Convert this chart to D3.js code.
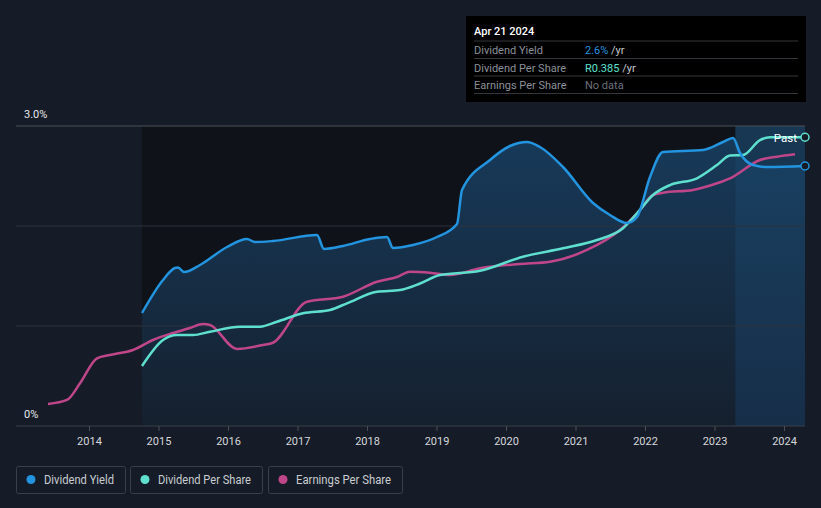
<!DOCTYPE html>
<html><head><meta charset="utf-8">
<script src="https://cdn.jsdelivr.net/npm/d3@7"></script>
<style>
html,body{margin:0;padding:0;background:#161c27;}
svg{display:block;font-family:Roboto,"Noto Sans",sans-serif;}
</style></head>
<body>
<svg id="c" width="821" height="508"></svg>
<script>
// Dividend yield (%) : [year, value]
const yieldData = [[2014.763,1.13],[2015.065,1.46],[2015.237,1.58],[2015.281,1.585],[2015.367,1.54],[2015.597,1.61],[2015.986,1.79],[2016.273,1.87],[2016.388,1.84],[2016.647,1.85],[2017.281,1.91],[2017.381,1.77],[2017.655,1.80],[2018.043,1.87],[2018.288,1.89],[2018.374,1.78],[2018.662,1.81],[2019.007,1.89],[2019.295,2.02],[2019.367,2.36],[2019.770,2.66],[2020.058,2.80],[2020.302,2.84],[2020.489,2.79],[2020.820,2.59],[2021.252,2.23],[2021.496,2.11],[2021.741,2.03],[2021.885,2.09],[2022.072,2.49],[2022.259,2.74],[2022.835,2.76],[2023.122,2.84],[2023.266,2.88],[2023.367,2.73],[2023.554,2.61],[2023.755,2.59],[2024.302,2.60]];
// Dividend per share (R)
const dpsData = [[2014.763,0.080],[2015.065,0.1147],[2015.266,0.1213],[2015.496,0.1213],[2015.741,0.1257],[2016.173,0.1324],[2016.460,0.1324],[2016.705,0.139],[2017.079,0.1503],[2017.468,0.1547],[2017.712,0.1636],[2018.144,0.179],[2018.475,0.1813],[2018.763,0.190],[2019.050,0.2013],[2019.626,0.207],[2020.245,0.2257],[2020.820,0.2369],[2021.309,0.248],[2021.683,0.2636],[2021.885,0.2836],[2022.115,0.308],[2022.360,0.3213],[2022.748,0.3303],[2023.036,0.348],[2023.223,0.3607],[2023.410,0.3613],[2023.655,0.3813],[2023.799,0.3850],[2024.302,0.3850]];
// Earnings per share (scaled to the same axis)
const epsData = [[2013.410,0.0293],[2013.683,0.0347],[2013.871,0.0569],[2014.115,0.0903],[2014.302,0.0947],[2014.633,0.1013],[2014.921,0.1147],[2015.209,0.124],[2015.453,0.1307],[2015.640,0.136],[2015.741,0.1347],[2016.129,0.1027],[2016.504,0.108],[2016.647,0.111],[2017.137,0.1657],[2017.655,0.1724],[2018.144,0.1924],[2018.432,0.1987],[2018.619,0.2057],[2018.906,0.2044],[2019.194,0.2013],[2019.626,0.2103],[2020.201,0.216],[2020.633,0.2191],[2021.165,0.2347],[2021.640,0.2613],[2021.928,0.288],[2022.115,0.308],[2022.259,0.311],[2022.691,0.3147],[2023.036,0.3236],[2023.223,0.3303],[2023.655,0.3547],[2023.899,0.3591],[2024.158,0.3623]];
const xTicks = [2014,2015,2016,2017,2018,2019,2020,2021,2022,2023,2024];
const yTickLabels = ["0%","3.0%"];
const pastStart = 2023.30;
const tooltipRows = [
  {label:"Dividend Yield", value:"2.6%", unit:" /yr", color:"#2394df"},
  {label:"Dividend Per Share", value:"R0.385", unit:" /yr", color:"#5fe0cf"},
  {label:"Earnings Per Share", value:"No data", unit:"", color:"#6c717a"}
];
const legendItems = [
  {label:"Dividend Yield", color:"#2394df"},
  {label:"Dividend Per Share", color:"#5fe0cf"},
  {label:"Earnings Per Share", color:"#c0468a"}
];

const svg = d3.select("#c");
const x = d3.scaleLinear().domain([2012.95, 2024.302]).range([16, 805]);
const y = d3.scaleLinear().domain([0, 3]).range([426, 126]);
const y2 = d3.scaleLinear().domain([0, 0.4]).range([426, 126]);

const defs = svg.append("defs");
const g1 = defs.append("linearGradient").attr("id","ag").attr("x1",0).attr("x2",0).attr("y1",0).attr("y2",1);
g1.append("stop").attr("offset","0%").attr("stop-color","#173a5a");
g1.append("stop").attr("offset","100%").attr("stop-color","#15202e");
const g2 = defs.append("linearGradient").attr("id","pg").attr("x1",0).attr("x2",0).attr("y1",0).attr("y2",1);
g2.append("stop").attr("offset","0%").attr("stop-color","#1a4466");
g2.append("stop").attr("offset","100%").attr("stop-color","#173251");

const x0 = yieldData[0][0], x1 = yieldData[yieldData.length-1][0];
// dark region over data span
svg.append("rect").attr("x", x(x0)).attr("y", y(3)).attr("width", x(x1)-x(x0)).attr("height", y(0)-y(3)).attr("fill","#0f1319");

// area under yield
const area = d3.area().x(d=>x(d[0])).y0(y(0)).y1(d=>y(d[1])).curve(d3.curveMonotoneX);
svg.append("path").datum(yieldData).attr("d", area).attr("fill","url(#ag)");

// past band
svg.append("rect").attr("x", x(pastStart)).attr("y", y(3)).attr("width", x(x1)-x(pastStart)).attr("height", y(0)-y(3)).attr("fill","url(#pg)").attr("opacity",0.75);

// grid
[0,1,2,3].forEach(v=>{
  svg.append("line").attr("x1",16).attr("x2",805).attr("y1",y(v)).attr("y2",y(v))
    .attr("stroke", v===3 ? "#4a4f57" : (v===0 ? "#3a3f48" : "#2c323c")).attr("stroke-width",1);
});

// x axis
const xAxis = d3.axisBottom(x).tickValues(xTicks).tickFormat(d3.format("d")).tickSize(5).tickPadding(6);
const ax = svg.append("g").attr("transform",`translate(0,${y(0)})`).call(xAxis);
ax.select(".domain").remove();
ax.selectAll(".tick line").attr("stroke","#4a4f57").attr("y1",0).attr("y2",5);
ax.selectAll(".tick text").attr("fill","#d5d8dd").attr("font-size","11px").attr("font-family","Roboto, sans-serif");

// y labels
svg.append("text").attr("x",24).attr("y",y(3)-8).attr("fill","#e6e8eb").attr("font-size","11px").text(yTickLabels[1]);
svg.append("text").attr("x",24).attr("y",y(0)-8).attr("fill","#e6e8eb").attr("font-size","11px").text(yTickLabels[0]);

// lines
const line1 = d3.line().x(d=>x(d[0])).y(d=>y(d[1])).curve(d3.curveMonotoneX);
const line2 = d3.line().x(d=>x(d[0])).y(d=>y2(d[1])).curve(d3.curveMonotoneX);
svg.append("path").datum(epsData).attr("d",line2).attr("fill","none").attr("stroke","#c0468a").attr("stroke-width",2.5);
svg.append("path").datum(dpsData).attr("d",line2).attr("fill","none").attr("stroke","#5fe0cf").attr("stroke-width",2.5);
svg.append("path").datum(yieldData).attr("d",line1).attr("fill","none").attr("stroke","#2394df").attr("stroke-width",2.5);

// end markers
const lastD = dpsData[dpsData.length-1], lastY = yieldData[yieldData.length-1];
svg.append("circle").attr("cx",x(lastD[0])).attr("cy",y2(lastD[1])).attr("r",4).attr("fill","#161c27").attr("stroke","#5fe0cf").attr("stroke-width",1.5);
svg.append("circle").attr("cx",x(lastY[0])).attr("cy",y(lastY[1])).attr("r",4).attr("fill","#161c27").attr("stroke","#2394df").attr("stroke-width",1.5);
svg.append("text").attr("x",x(lastD[0])-8).attr("y",y2(lastD[1])+4.5).attr("text-anchor","end").attr("fill","#ffffff").attr("font-size","11.5px").text("Past");

// tooltip
const tt = svg.append("g").attr("transform","translate(466,16)");
tt.append("rect").attr("width",340).attr("height",86).attr("fill","#000000");
tt.append("text").attr("x",8).attr("y",19).attr("fill","#ffffff").attr("font-size","11px").attr("font-weight",500).text("Apr 21 2024");
tooltipRows.forEach((r,i)=>{
  const yy = 25 + i*17.5;
  tt.append("line").attr("x1",8).attr("x2",332).attr("y1",yy).attr("y2",yy).attr("stroke","#33363b");
  tt.append("text").attr("x",8).attr("y",yy+13).attr("font-size","11px").attr("fill","#8b9098").text(r.label);
  const v = tt.append("text").attr("x",119).attr("y",yy+13).attr("font-size","11px");
  v.append("tspan").attr("fill",r.color).text(r.value);
  v.append("tspan").attr("fill","#c7cacf").text(r.unit);
});
tt.append("line").attr("x1",8).attr("x2",332).attr("y1",25+3*17.5).attr("y2",25+3*17.5).attr("stroke","#33363b");

// legend
const legendX = [16, 130, 268];
const legendW = [110, 133, 135];
legendItems.forEach((it,i)=>{
  const g = svg.append("g").attr("transform",`translate(${legendX[i]},466)`);
  g.append("rect").attr("x",0.5).attr("y",0.5).attr("width",legendW[i]-1).attr("height",27).attr("rx",2).attr("fill","none").attr("stroke","#3a3f48");
  g.append("circle").attr("cx",15).attr("cy",13.5).attr("r",4.5).attr("fill",it.color);
  g.append("text").attr("x",28).attr("y",17.5).attr("fill","#c9ccd1").attr("font-size","12px")
    .attr("textLength", legendW[i]-40).attr("lengthAdjust","spacingAndGlyphs").text(it.label);
});
</script>
</body></html>
